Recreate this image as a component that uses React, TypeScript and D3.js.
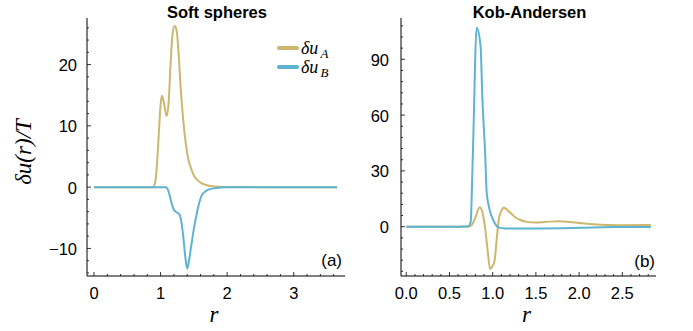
import React from "react";
import * as d3 from "d3";

// Soft spheres (a)
const ssR_A = [0, 0.5, 0.88, 0.92, 0.95, 0.98, 1.0, 1.02, 1.05, 1.09, 1.12, 1.15, 1.18, 1.21, 1.24, 1.27, 1.3, 1.34, 1.38, 1.42, 1.46, 1.5, 1.56, 1.62, 1.7, 1.8, 2.0, 2.5, 3.0, 3.65];
const ssA = [0, 0, 0, 0.8, 4.4, 10, 13.4, 14.9, 13.8, 11.6, 13.7, 20, 25, 26.3, 25.6, 22, 16.5, 11, 7, 4.4, 3.0, 1.9, 1.1, 0.6, 0.3, 0.12, 0.03, 0, 0, 0];
const ssR_B = [0, 0.5, 1.0, 1.08, 1.11, 1.14, 1.17, 1.2, 1.24, 1.28, 1.31, 1.34, 1.37, 1.4, 1.43, 1.46, 1.5, 1.54, 1.58, 1.62, 1.7, 1.8, 1.9, 2.0, 2.5, 3.0, 3.65];
const ssB = [0, 0, 0, 0, -0.4, -1.5, -2.8, -3.7, -4.1, -4.4, -5.5, -8, -11.2, -13.3, -11.8, -9.6, -6.8, -4.5, -2.6, -1.3, -0.5, -0.2, -0.06, 0, 0, 0, 0];

// Kob-Andersen (b)
const kaR_A = [0, 0.5, 0.72, 0.76, 0.8, 0.85, 0.88, 0.91, 0.94, 0.97, 1.0, 1.02, 1.05, 1.07, 1.1, 1.13, 1.18, 1.25, 1.32, 1.4, 1.49, 1.6, 1.76, 1.9, 2.0, 2.13, 2.36, 2.5, 2.83];
const kaA = [0, 0, 0, 1, 5, 10.4, 8, 0, -12, -22.7, -21, -18.8, -5, 3.6, 8.5, 10.2, 8.5, 5.5, 3.6, 2.6, 2.3, 2.5, 3.0, 2.5, 2.0, 1.5, 0.9, 0.8, 0.9];
const kaR_B = [0, 0.5, 0.72, 0.745, 0.77, 0.815, 0.86, 0.88, 0.914, 0.93, 0.96, 0.99, 1.03, 1.07, 1.15, 1.5, 2.0, 2.4, 2.83];
const kaB = [0, 0, 0.3, 2.5, 38, 107, 97, 70, 38, 18.8, 10, 5.4, 1.5, -0.5, -0.9, -0.9, -0.6, -0.2, -0.1];

const titles = ["Soft spheres", "Kob-Andersen"];
const ssXTicks = [0, 1, 2, 3];
const ssYTicks = [-10, 0, 10, 20];
const kaXTicks = [0, 0.5, 1.0, 1.5, 2.0, 2.5];
const kaYTicks = [0, 30, 60, 90];

const GOLD = "#CDB66E";
const BLUE = "#5DB4D0";
const FONT = "Liberation Sans, Arial, sans-serif";
const SERIF = "Liberation Serif, Times New Roman, serif";

type PanelProps = {
  x0: number; x1: number; y0: number; y1: number;
  xDom: [number, number]; yDom: [number, number];
  xTicks: number[]; yTicks: number[];
  xMinorStep: number; yMinorStep: number;
  xFmt: (v: number) => string;
  rA: number[]; vA: number[]; rB: number[]; vB: number[];
  title: string; tag: string; tagX: number; tagY: number;
  labelGap: number;
};

function Panel(p: PanelProps) {
  const x = d3.scaleLinear().domain(p.xDom).range([p.x0, p.x1]);
  const y = d3.scaleLinear().domain(p.yDom).range([p.y1, p.y0]);
  const line = d3.line<[number, number]>().x(d => x(d[0])).y(d => y(d[1])).curve(d3.curveMonotoneX);
  const a = line(p.rA.map((r, i) => [r, p.vA[i]] as [number, number])) || "";
  const b = line(p.rB.map((r, i) => [r, p.vB[i]] as [number, number])) || "";
  const xMinor: number[] = [];
  for (let v = Math.ceil(p.xDom[0] / p.xMinorStep) * p.xMinorStep; v <= p.xDom[1] + 1e-9; v += p.xMinorStep) xMinor.push(+v.toFixed(6));
  const yMinor: number[] = [];
  for (let v = Math.ceil(p.yDom[0] / p.yMinorStep) * p.yMinorStep; v <= p.yDom[1] + 1e-9; v += p.yMinorStep) yMinor.push(+v.toFixed(6));
  const isMajX = (v: number) => p.xTicks.some(t => Math.abs(t - v) < 1e-6);
  const isMajY = (v: number) => p.yTicks.some(t => Math.abs(t - v) < 1e-6);
  return (
    <g>
      <text x={(p.x0 + p.x1) / 2 + 1} y={17.5} textAnchor="middle" fontFamily={FONT} fontWeight="bold" fontSize={16.5}>{p.title}</text>
      <path d={a} fill="none" stroke={GOLD} strokeWidth={2} strokeLinejoin="round" />
      <path d={b} fill="none" stroke={BLUE} strokeWidth={2} strokeLinejoin="round" />
      <line x1={p.x0} x2={p.x0} y1={p.y0} y2={p.y1} stroke="#000" strokeWidth={1} />
      <line x1={p.x0} x2={p.x1} y1={p.y1} y2={p.y1} stroke="#000" strokeWidth={1} />
      {xMinor.map(v => (
        <line key={"xm" + v} x1={x(v)} x2={x(v)} y1={p.y1} y2={p.y1 - (isMajX(v) ? 4 : 2)} stroke="#000" strokeWidth={0.8} />
      ))}
      {yMinor.map(v => (
        <line key={"ym" + v} x1={p.x0} x2={p.x0 + (isMajY(v) ? 4 : 2)} y1={y(v)} y2={y(v)} stroke="#000" strokeWidth={0.8} />
      ))}
      {p.xTicks.map(v => (
        <text key={"xt" + v} x={x(v)} y={298.5} textAnchor="middle" fontFamily={FONT} fontSize={16.5}>{p.xFmt(v)}</text>
      ))}
      {p.yTicks.map(v => (
        <text key={"yt" + v} x={p.x0 - p.labelGap} y={y(v) + 6.5} textAnchor="end" fontFamily={FONT} fontSize={16.5}>{v < 0 ? "\u2212" + Math.abs(v) : String(v)}</text>
      ))}
      <text x={(p.x0 + p.x1) / 2 - 2} y={322} textAnchor="middle" fontFamily={SERIF} fontStyle="italic" fontSize={23}>r</text>
      <text x={p.tagX} y={p.tagY} textAnchor="end" fontFamily={FONT} fontSize={17}>{p.tag}</text>
    </g>
  );
}

export default function App() {
  return (
    <svg width={693} height={331} style={{ position: "absolute", left: 0, top: 0, background: "#fff" }}>
      <rect width={693} height={331} fill="#fff" />
      <Panel x0={87} x1={345} y0={18} y1={276} xDom={[-0.105, 3.77]} yDom={[-14.5, 27.6]}
        xTicks={ssXTicks} yTicks={ssYTicks} xMinorStep={0.2} yMinorStep={2}
        xFmt={v => String(v)} rA={ssR_A} vA={ssA} rB={ssR_B} vB={ssB}
        title={titles[0]} tag="(a)" tagX={342} tagY={266} labelGap={10} />
      <Panel x0={401} x1={656} y0={18} y1={276} xDom={[-0.061, 2.89]} yDom={[-26.5, 112.2]}
        xTicks={kaXTicks} yTicks={kaYTicks} xMinorStep={0.1} yMinorStep={6}
        xFmt={v => v.toFixed(1)} rA={kaR_A} vA={kaA} rB={kaR_B} vB={kaB}
        title={titles[1]} tag="(b)" tagX={655} tagY={267} labelGap={12} />
      {/* legend */}
      <line x1={279} x2={297} y1={48} y2={48} stroke={GOLD} strokeWidth={4} strokeLinecap="round" />
      <line x1={279} x2={297} y1={67} y2={67} stroke={BLUE} strokeWidth={4} strokeLinecap="round" />
      <text x={301} y={54} fontFamily={SERIF} fontStyle="italic" fontSize={18}>δu<tspan fontSize={13} dx={2} dy={4}>A</tspan></text>
      <text x={301} y={73} fontFamily={SERIF} fontStyle="italic" fontSize={18}>δu<tspan fontSize={13} dx={2} dy={4}>B</tspan></text>
      {/* y label */}
      <text transform="translate(31,152) rotate(-90)" textAnchor="middle" fontFamily={SERIF} fontStyle="italic" fontSize={23}>δu(r)/T</text>
    </svg>
  );
}
